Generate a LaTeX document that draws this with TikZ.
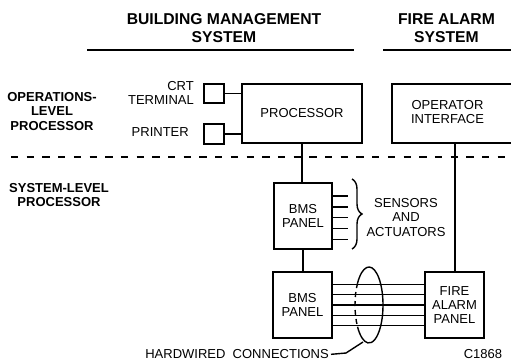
\documentclass[tikz,border=0pt]{standalone}
\usepackage{fontspec}
\setmainfont{Liberation Sans}
\usetikzlibrary{decorations.pathreplacing,calc}
\begin{document}
\begin{tikzpicture}[x=1pt,y=-1pt,
  txt/.style={inner sep=0pt, align=center, font=\fontsize{13}{14.5}\selectfont},
  lbl/.style={inner sep=0pt, align=center, font=\fontsize{13}{14.8}\selectfont\bfseries},
  hdr/.style={inner sep=0pt, align=center, font=\fontsize{15.7}{18}\selectfont\bfseries},
  box/.style={draw, line width=2.3pt, inner sep=0pt, align=center, font=\fontsize{13}{14.5}\selectfont},
  conn/.style={line width=1.4pt},
  rule/.style={line width=2.2pt},
]
\useasboundingbox (0,0) rectangle (511,362);

% headers
\node[hdr] (bmsh) at (224,28) {BUILDING MANAGEMENT\\SYSTEM};
\node[hdr] (fash) at (446.5,28) {FIRE ALARM\\SYSTEM};
\draw[rule] (87,50) -- (354,50);
\draw[rule] (383,50) -- (511,50);

% left labels
\node[lbl] (opl) at (52,111.5) {OPERATIONS-\\LEVEL\\PROCESSOR};
\node[lbl] (syl) at (59,195) {SYSTEM-LEVEL\\PROCESSOR};

% operations level
\node[txt, anchor=east, align=right] (crtl) at (194,93) {CRT\\TERMINAL};
\node[txt, anchor=east] (prl) at (189,132) {PRINTER};
\node[box, minimum width=19.7pt, minimum height=18.7pt] (crt) at (214,93.5) {};
\node[box, minimum width=19.7pt, minimum height=19.7pt] (prn) at (214,134) {};
\node[box, minimum width=119.7pt, minimum height=58.7pt] (proc) at (302,113.5) {PROCESSOR};
\draw[conn] (crt.east) -- (crt.east -| proc.west);
\draw[conn] (prn.east) -- (prn.east -| proc.west);

\draw[rule, line width=2.3pt] (512,84.15) -- (392.15,84.15) -- (392.15,142.85) -- (512,142.85);
\node[txt] (opi) at (447.5,112) {OPERATOR\\INTERFACE};
\coordinate (opib) at (455,144);

% level separator
\draw[rule, dash pattern=on 7.3pt off 8.4pt] (11,157) -- (511,157);

% system level
\node[box, minimum width=57.7pt, minimum height=65.7pt] (bms1) at (303,216) {BMS\\PANEL};
\draw[conn] (proc.south) -- (proc.south |- bms1.north);
\foreach \dy in {-20,-9.2,1.6,12.4,23.2}
  \draw[conn] (bms1.east) ++(0,\dy) -- ++(15,0);
\draw[conn, decorate, decoration={brace, amplitude=10pt}] (352,179) -- (352,249);
\node[txt] (sens) at (406,217.5) {SENSORS\\AND\\ACTUATORS};

\node[box, minimum width=58.7pt, minimum height=65.7pt] (bms2) at (302.5,305) {BMS\\PANEL};
\node[box, minimum width=58.7pt, minimum height=65.7pt, font=\fontsize{13}{14.3}\selectfont] (fap) at (454.5,305) {FIRE\\ALARM\\PANEL};
\draw[conn] (bms1.south) -- (bms1.south |- bms2.north);
\draw[conn] (opib) -- (opib |- fap.north);

\foreach \dy in {-20.5,-10.25,0,10.25,20.5}
  \draw[conn] ($(bms2.east)+(0,\dy)$) -- ($(fap.west)+(0,\dy)$);

% cable bundle ellipse
\coordinate (ell) at (369,305);
\draw[conn] (ell) ++(145:14pt and 38pt) arc[start angle=145, end angle=-145, x radius=14pt, y radius=38pt];
\draw[conn, dash pattern=on 5pt off 4pt] (ell) ++(145:14pt and 38pt) arc[start angle=145, end angle=215, x radius=14pt, y radius=38pt];

\coordinate (ellb) at (363,342);
\node[txt, anchor=east] (hw) at (329,354.5) {HARDWIRED\ \ CONNECTIONS};
\draw[conn, shorten <=2pt] (hw.east) -- ++(17,-1.5) -- (ellb);

\node[txt] (code) at (483,354.5) {C1868};
\end{tikzpicture}
\end{document}
